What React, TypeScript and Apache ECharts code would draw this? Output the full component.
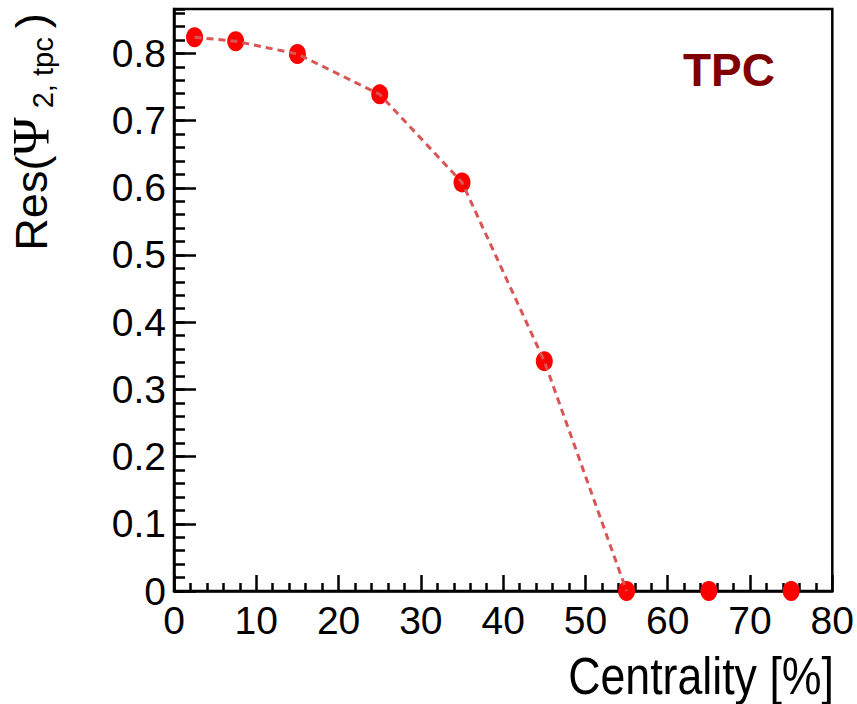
import { useEffect, useRef } from "react";
import * as echarts from "echarts";

const centrality = [2.5, 7.5, 15, 25, 35, 45, 55, 65, 75];
const resolution = [0.824, 0.818, 0.799, 0.739, 0.608, 0.342, 0, 0, 0];
const curvePoints = 7; // points joined by the dashed curve
const xTicks = [0, 10, 20, 30, 40, 50, 60, 70, 80];
const yTicks = [0, 0.1, 0.2, 0.3, 0.4, 0.5, 0.6, 0.7, 0.8];
const xTitle = "Centrality [%]";
const yTitleMain = "Res(";
const yTitleSymbol = "Ψ";
const yTitleSub = "2, tpc";
const yTitleEnd = ")";
const detectorLabel = "TPC";

const FONT = "'Liberation Sans', Arial, Helvetica, sans-serif";
const SERIF = "'Liberation Serif', 'DejaVu Serif', serif";

export default function App() {
  const ref = useRef<HTMLDivElement>(null);
  useEffect(() => {
    document.body.style.margin = "0";
    const chart = echarts.init(ref.current!, null, { renderer: "svg" });
    const points = centrality.map((x, i) => [x, resolution[i]]);
    const curve = points.slice(0, curvePoints);
    const axisColor = "#000";
    chart.setOption({
      animation: false,
      backgroundColor: "#fff",
      grid: {
        left: 174,
        right: 22,
        top: 9,
        bottom: 113,
        show: true,
        borderColor: axisColor,
        borderWidth: 2.5,
        backgroundColor: "transparent",
      },
      xAxis: {
        type: "value",
        min: 0,
        max: 80,
        interval: 10,
        axisLine: { show: true, onZero: false, lineStyle: { color: axisColor, width: 2.5 } },
        axisTick: { show: true, inside: true, length: 16, lineStyle: { color: axisColor, width: 2.5 }, customValues: xTicks },
        minorTick: { show: true, splitNumber: 5, length: 8, lineStyle: { color: axisColor, width: 2.5 } },
        splitLine: { show: false },
        axisLabel: {
          customValues: xTicks,
          fontFamily: FONT,
          fontSize: 39,
          color: "#000",
          margin: 10,
        },
      },
      yAxis: [
        {
          type: "value",
          min: 0,
          max: 0.866,
          interval: 0.1,
          position: "left",
          axisLine: { show: true, onZero: false, lineStyle: { color: axisColor, width: 2.5 } },
          axisTick: { show: true, inside: true, length: 22, lineStyle: { color: axisColor, width: 2.5 }, customValues: yTicks },
          splitLine: { show: false },
          axisLabel: {
            customValues: yTicks,
            formatter: (v: number) => (v === 0 ? "0" : v.toFixed(1)),
            fontFamily: FONT,
            fontSize: 39,
            color: "#000",
            margin: 8,
          },
        },
        {
          type: "value",
          min: 0,
          max: 0.866,
          interval: 0.02,
          position: "left",
          offset: 0,
          axisLine: { show: false },
          axisTick: { show: true, inside: true, length: 11, lineStyle: { color: axisColor, width: 2.5 } },
          splitLine: { show: false },
          axisLabel: { show: false },
        },
      ],
      series: [
        {
          type: "scatter",
          data: points,
          symbol: "circle",
          symbolSize: [17, 20],
          itemStyle: { color: "#ff0000", opacity: 1 },
          z: 2,
        },
        {
          type: "line",
          data: curve,
          showSymbol: false,
          symbol: "none",
          lineStyle: { color: "#d95555", width: 3, type: [7, 5] },
          z: 3,
        },
      ],
      graphic: [
        {
          type: "text",
          x: 683,
          y: 70,
          style: {
            text: detectorLabel,
            fontFamily: FONT,
            fontWeight: "bold",
            fontSize: 46,
            fill: "#800000",
            align: "left",
            verticalAlign: "middle",
          },
        },
        {
          type: "text",
          x: 834,
          y: 676,
          scaleX: 0.86,
          style: {
            text: xTitle,
            fontFamily: FONT,
            fontSize: 52,
            fill: "#000",
            align: "right",
            verticalAlign: "middle",
          },
        },
        {
          type: "text",
          x: 31,
          y: 132,
          rotation: Math.PI / 2,
          style: {
            text: `{m|${yTitleMain}}{p|${yTitleSymbol}}{s|${yTitleSub}}{m|${yTitleEnd}}`,
            align: "center",
            verticalAlign: "middle",
            fill: "#000",
            rich: {
              m: { fontFamily: FONT, fontSize: 45, fill: "#000", lineHeight: 52, verticalAlign: "middle" },
              p: { fontFamily: SERIF, fontSize: 52, fill: "#000", lineHeight: 52, verticalAlign: "middle" },
              s: { fontFamily: FONT, fontSize: 29, fill: "#000", lineHeight: 8, verticalAlign: "bottom", padding: [0, 9, 0, 9] },
            },
          },
        },
      ],
    });
    return () => chart.dispose();
  }, []);
  return <div ref={ref} style={{ position: "fixed", left: 0, top: 0, width: 857, height: 704 }} />;
}
